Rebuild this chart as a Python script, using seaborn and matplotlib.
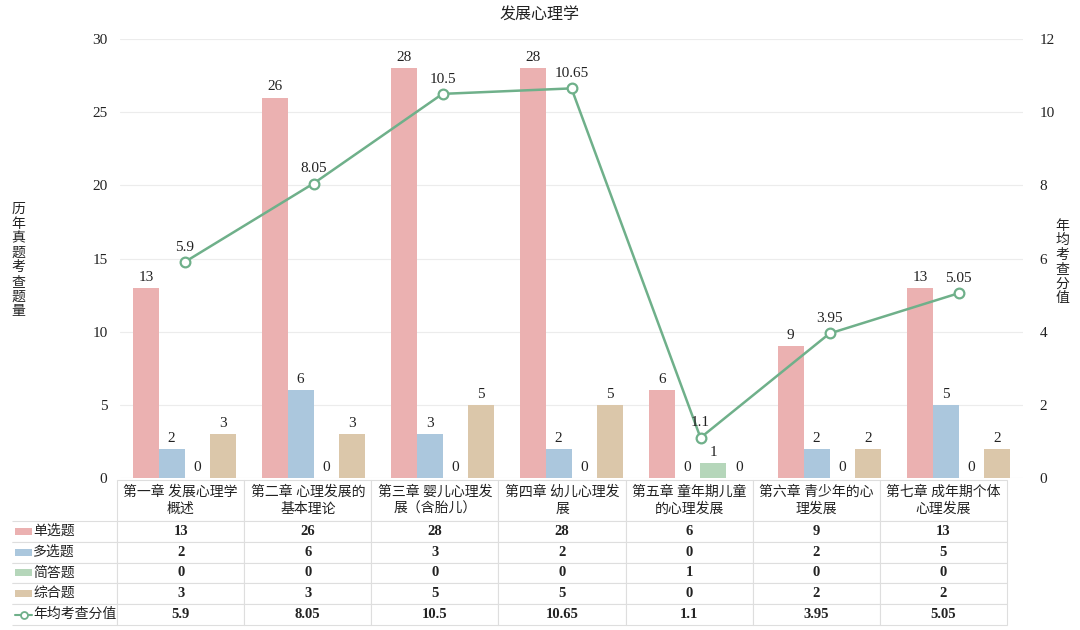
import numpy as np
import pandas as pd
import matplotlib as mpl
mpl.use('Agg')
import matplotlib.pyplot as plt
from matplotlib.patches import Rectangle
from matplotlib.lines import Line2D
import seaborn as sns

# data
chapters = ['第一章 发展心理学概述', '第二章 心理发展的基本理论', '第三章 婴儿心理发展（含胎儿）',
            '第四章 幼儿心理发展', '第五章 童年期儿童的心理发展', '第六章 青少年的心理发展',
            '第七章 成年期个体心理发展']
types = ['单选题', '多选题', '简答题', '综合题']
single = [13, 26, 28, 28, 6, 9, 13]
multi = [2, 6, 3, 2, 0, 2, 5]
short = [0, 0, 0, 0, 1, 0, 0]
essay = [3, 3, 5, 5, 0, 2, 2]
avg_score = [5.9, 8.05, 10.5, 10.65, 1.1, 3.95, 5.05]
line_name = '年均考查分值'

bar_colors = ['#ebb1b1', '#abc7dd', '#b5d6ba', '#dbc7aa']
line_color = '#6fb08a'

sns.set_theme(style='white')
plt.rcParams['font.family'] = ['Liberation Serif', 'Noto Sans CJK SC']

counts = [single, multi, short, essay]
df = pd.DataFrame({
    'chapter': [c for t in types for c in chapters],
    'type': [t for t in types for c in chapters],
    'count': [v for vals in counts for v in vals],
})

fig = plt.figure(figsize=(10.8, 6.3), dpi=100)
ax = fig.add_axes([120 / 1080, 1 - 478 / 630, 903 / 1080, 439 / 630])

sns.barplot(data=df, x='chapter', y='count', hue='type', hue_order=types,
            palette=bar_colors, saturation=1, width=0.8, linewidth=0,
            legend=False, ax=ax)
for c in ax.containers:
    ax.bar_label(c, padding=3, fontsize=11, color='#222222')

ax.set_ylim(0, 30)
ax.set_yticks(np.arange(0, 31, 5))
ax.set_xticks(range(len(chapters)))
ax.set_xticklabels([])
ax.set_xlabel('')
ax.set_ylabel('')
ax.tick_params(axis='x', length=0)
ax.tick_params(axis='y', length=0, pad=9, labelsize=11, labelcolor='#222222')
ax.yaxis.grid(True, color='#ececec', linewidth=0.8)
ax.set_axisbelow(True)
for s in ax.spines.values():
    s.set_visible(False)

ax2 = ax.twinx()
x_pos = np.arange(len(chapters))
sns.lineplot(x=x_pos, y=avg_score, ax=ax2, color=line_color, linewidth=1.8,
             marker='o', markersize=7, markerfacecolor='white',
             markeredgecolor=line_color, markeredgewidth=1.6)
for i, v in enumerate(avg_score):
    ax2.annotate(f'{v:g}', (x_pos[i], v), xytext=(0, 6), textcoords='offset points',
                 ha='center', va='bottom', fontsize=11, color='#222222')
ax2.set_ylim(0, 12)
ax2.set_yticks(np.arange(0, 13, 2))
ax2.tick_params(axis='y', length=0, pad=12, labelsize=11, labelcolor='#222222')
ax2.grid(False)
ax2.set_ylabel('')
for s in ax2.spines.values():
    s.set_visible(False)
ax.set_xlim(-0.5, len(chapters) - 0.5)

# data table under the chart
headers = [c[:9] + '\n' + c[9:] for c in chapters]
rows = [[t] + [str(v) for v in vals] for t, vals in zip(types, counts)]
rows.append([line_name] + [f'{v:g}' for v in avg_score])
col_w = [105] + [127] * len(chapters)
col_w = [w / sum(col_w) for w in col_w]

tbl = ax.table(cellText=rows, colLabels=[''] + headers, cellLoc='center',
               colWidths=col_w, bbox=[-0.1196, -0.335, 1.1019, 0.330])
tbl.auto_set_font_size(False)
tbl.set_fontsize(10)
for (r, c), cell in tbl.get_celld().items():
    cell.set_edgecolor('#dedede')
    cell.set_linewidth(0.8)
    cell.set_height(41 if r == 0 else 21)
    txt = cell.get_text()
    txt.set_color('#222222')
    if r == 0:
        txt.set_linespacing(1.4)
        if c == 0:
            cell.visible_edges = ''
    elif c == 0:
        cell.visible_edges = 'TBR'
        cell.PAD = 0.2
        txt.set_horizontalalignment('left')
    else:
        txt.set_fontweight('bold')
        txt.set_fontsize(10.5)

fig.canvas.draw()
for r in range(1, len(rows) + 1):
    cell = tbl[(r, 0)]
    x0, y0, h = cell.get_x(), cell.get_y(), cell.get_height()
    ym = y0 + h / 2
    if r <= len(types):
        ax.add_patch(Rectangle((x0 + 3 / 903, ym - 3.5 / 439), 17 / 903, 7 / 439,
                               transform=ax.transAxes, clip_on=False,
                               facecolor=bar_colors[r - 1], linewidth=0))
    else:
        ax.add_line(Line2D([x0 + 3 / 903, x0 + 20 / 903], [ym, ym], transform=ax.transAxes,
                           clip_on=False, color=line_color, linewidth=1.5))
        ax.add_line(Line2D([x0 + 11.5 / 903], [ym], transform=ax.transAxes, clip_on=False,
                           marker='o', markersize=5, markerfacecolor='white',
                           markeredgecolor=line_color, markeredgewidth=1.3))

fig.text(0.5, 1 - 16 / 630, '发展心理学', ha='center', va='center', fontsize=11.5, color='#222222')
fig.text(18 / 1080, 1 - 260 / 630, '\n'.join('历年真题考查题量'), ha='center', va='center',
         fontsize=10, linespacing=1.05, color='#222222', family='Noto Sans CJK SC')
fig.text(1062 / 1080, 1 - 262 / 630, '\n'.join('年均考查分值'), ha='center', va='center',
         fontsize=10, linespacing=1.05, color='#222222', family='Noto Sans CJK SC')

fig.savefig('out.png', dpi=100)
